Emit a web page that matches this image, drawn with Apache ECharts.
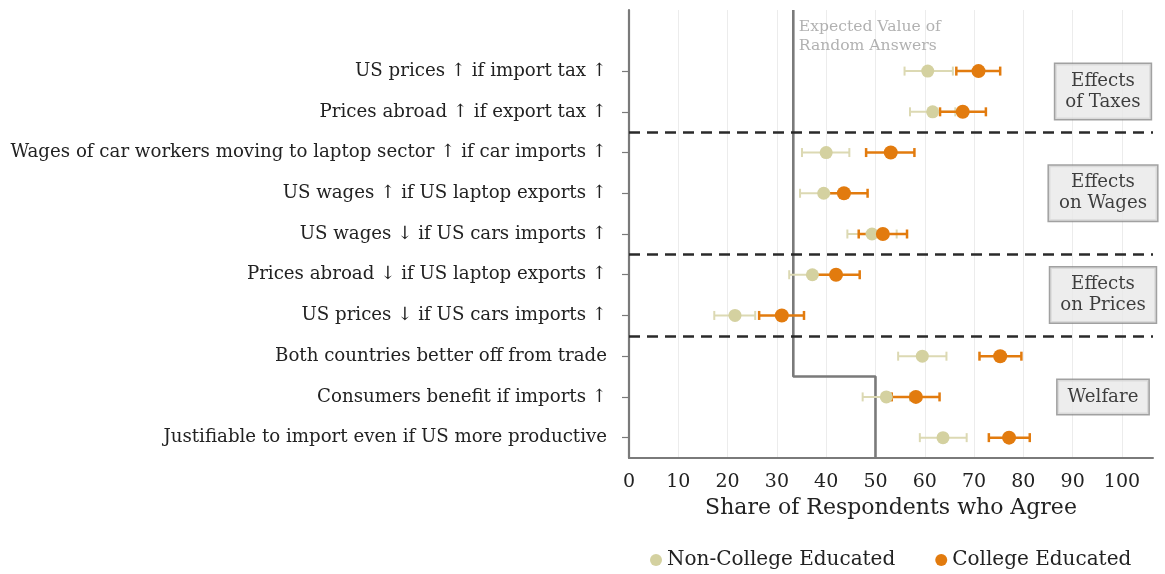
<!DOCTYPE html>
<html><head><meta charset="utf-8">
<script src="https://cdn.jsdelivr.net/npm/echarts@6/dist/echarts.min.js"></script>
<style>html,body{margin:0;padding:0;background:#fff}#c{width:1165px;height:574px}</style>
</head><body><div id="c"></div>
<script>
// ---- data ----
const categories = [
  'US prices \u2191 if import tax \u2191',
  'Prices abroad \u2191 if export tax \u2191',
  'Wages of car workers moving to laptop sector \u2191 if car imports \u2191',
  'US wages \u2191 if US laptop exports \u2191',
  'US wages \u2193 if US cars imports \u2191',
  'Prices abroad \u2193 if US laptop exports \u2191',
  'US prices \u2193 if US cars imports \u2191',
  'Both countries better off from trade',
  'Consumers benefit if imports \u2191',
  'Justifiable to import even if US more productive'
];
const nonCollegeMean = [60.6, 61.6, 40.0, 39.5, 49.3, 37.2, 21.5, 59.5, 52.2, 63.7];
const nonCollegeLow  = [55.9, 57.0, 35.1, 34.7, 44.3, 32.5, 17.3, 54.6, 47.4, 59.0];
const nonCollegeHigh = [65.7, 66.2, 44.7, 44.3, 54.3, 41.9, 25.6, 64.4, 57.0, 68.5];
const collegeMean = [70.9, 67.7, 53.1, 43.6, 51.5, 42.0, 31.0, 75.3, 58.2, 77.1];
const collegeLow  = [66.4, 63.1, 48.1, 38.9, 46.6, 37.4, 26.4, 71.1, 53.3, 73.0];
const collegeHigh = [75.3, 72.4, 57.9, 48.4, 56.4, 46.8, 35.5, 79.6, 63.0, 81.3];
const expectedRandom = [33.33, 33.33, 33.33, 33.33, 33.33, 33.33, 33.33, 33.33, 50, 50];
const xTicks = [0, 10, 20, 30, 40, 50, 60, 70, 80, 90, 100];
const groupNames = ['Effects\nof Taxes', 'Effects\non Wages', 'Effects\non Prices', 'Welfare'];
const groupFirstRow = [1, 3, 6, 8];
const groupLastRow = [2, 5, 7, 10];
const legendNames = ['Non-College Educated', 'College Educated'];

// ---- styles ----
const FONT = 'DejaVu Serif';
const TAN = '#d4d1a0';
const TAN_BAR = '#dcd9b3';
const ORANGE = '#e27b0e';
const X_MAX = 106.3;
const Y_MIN = -0.5;
const Y_MAX = 10.5;
const rows = categories.map((c, i) => i + 1);

function errSeries(name, low, high, color, width) {
  return {
    name: name, type: 'custom', z: 3,
    data: rows.map((r, i) => [low[i], high[i], r]),
    encode: { x: [0, 1], y: 2 },
    renderItem: function (params, api) {
      const y = api.value(2);
      const a = api.coord([api.value(0), y]);
      const b = api.coord([api.value(1), y]);
      const h = 4.5;
      const st = { stroke: color, lineWidth: width, fill: null };
      return { type: 'group', children: [
        { type: 'line', shape: { x1: a[0], y1: a[1], x2: b[0], y2: b[1] }, style: st },
        { type: 'line', shape: { x1: a[0], y1: a[1] - h, x2: a[0], y2: a[1] + h }, style: st },
        { type: 'line', shape: { x1: b[0], y1: b[1] - h, x2: b[0], y2: b[1] + h }, style: st }
      ]};
    },
    silent: true
  };
}

// step line of expected value of random answers (runs to the top and bottom of the plot)
const stepData = [];
expectedRandom.forEach((v, i) => {
  stepData.push([v, i === 0 ? Y_MIN : rows[i] - 0.5]);
  stepData.push([v, rows[i] + 0.5]);
});

const chart = echarts.init(document.getElementById('c'), null, { renderer: 'canvas' });
chart.setOption({
  animation: false,
  textStyle: { fontFamily: FONT },
  grid: { left: 629, right: 12, top: 10, bottom: 116, containLabel: false, outerBoundsMode: 'none' },
  xAxis: {
    type: 'value', min: 0, max: X_MAX, interval: 10,
    axisLine: { show: true, onZero: false, lineStyle: { color: '#7a7a7a', width: 2 } },
    axisTick: { show: false },
    axisLabel: { customValues: xTicks, fontSize: 19, color: '#222', margin: 15, fontFamily: FONT },
    splitLine: { show: true, showMinLine: false, showMaxLine: false, lineStyle: { color: '#ececec', width: 1 } },
    name: 'Share of Respondents who Agree', nameLocation: 'middle', nameGap: 36,
    nameTextStyle: { fontSize: 22, color: '#222', fontFamily: FONT }
  },
  yAxis: {
    type: 'value', min: Y_MIN, max: Y_MAX, inverse: true,
    axisLine: { show: true, onZero: false, lineStyle: { color: '#7a7a7a', width: 2.2 } },
    axisTick: { show: true, customValues: rows, length: 7, lineStyle: { color: '#7a7a7a', width: 1.2 } },
    axisLabel: { customValues: rows, formatter: v => categories[Math.round(v) - 1] || '', fontSize: 18.2, color: '#222', margin: 22, fontFamily: FONT },
    splitLine: { show: false }
  },
  legend: {
    data: legendNames, icon: 'circle', itemWidth: 12, itemHeight: 12, itemGap: 40,
    left: 645, top: 545, textStyle: { fontSize: 20, color: '#222', fontFamily: FONT }
  },
  series: [
    {
      name: 'expected', type: 'line', data: stepData, symbol: 'none', z: 2, silent: true,
      lineStyle: { color: '#7a7a7a', width: 2.6 },
      markLine: {
        symbol: 'none', silent: true, label: { show: false },
        lineStyle: { color: '#2a2a2a', type: [11, 7], width: 2.6 },
        data: groupLastRow.slice(0, -1).map(r => ({ yAxis: r + 0.5 }))
      }
    },
    {
      name: 'expectedLabel', type: 'scatter', symbolSize: 1, z: 2, silent: true,
      itemStyle: { color: 'rgba(0,0,0,0)' },
      data: [[expectedRandom[0], Y_MIN]],
      label: { show: true, position: [6, 8], align: 'left', verticalAlign: 'top',
        formatter: 'Expected Value of\nRandom Answers', color: '#9e9e9e', fontSize: 15.6, lineHeight: 19, fontFamily: FONT }
    },
    errSeries('ncErr', nonCollegeLow, nonCollegeHigh, TAN_BAR, 2),
    {
      name: legendNames[0], type: 'scatter', z: 3, symbolSize: 13,
      itemStyle: { color: TAN, opacity: 1 },
      data: rows.map((r, i) => [nonCollegeMean[i], r])
    },
    errSeries('cErr', collegeLow, collegeHigh, ORANGE, 2.5),
    {
      name: legendNames[1], type: 'scatter', z: 3, symbolSize: 14,
      itemStyle: { color: ORANGE, opacity: 1 },
      data: rows.map((r, i) => [collegeMean[i], r])
    },
    {
      name: 'groups', type: 'scatter', symbolSize: 1, z: 4, silent: true,
      itemStyle: { color: 'rgba(0,0,0,0)' },
      data: groupNames.map((g, i) => [X_MAX, (groupFirstRow[i] + groupLastRow[i]) / 2]),
      label: {
        show: true, position: 'inside', offset: [-50, 0], align: 'center', verticalAlign: 'middle',
        formatter: p => groupNames[p.dataIndex],
        fontSize: 18.2, lineHeight: 21, color: '#111', fontFamily: FONT,
        backgroundColor: '#e9e9e9', borderColor: '#8a8a8a', borderWidth: 1.5,
        padding: [7, 10, 6, 10]
      }
    }
  ]
});
</script></body></html>
